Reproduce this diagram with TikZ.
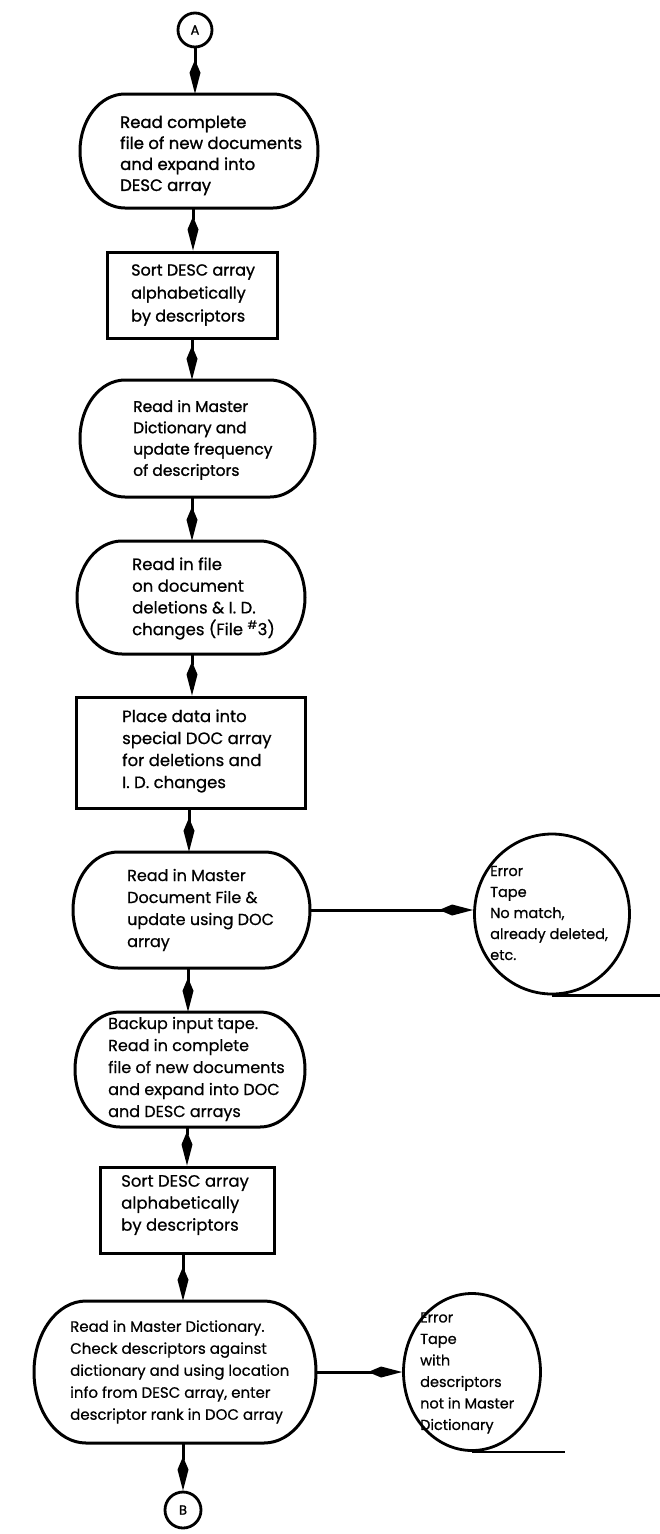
\documentclass[tikz,border=0pt]{standalone}
\usepackage{fontspec}
\setmainfont{Poppins}[FakeBold=0.6]
\newfontfamily\heavyfont{Poppins}[FakeBold=1.2]
\usetikzlibrary{arrows.meta,shapes.geometric}

\tikzset{
  outline/.style={line width=3pt, line join=round},
  frame/.style={inner sep=0pt, draw=none},
  boxnode/.style={draw, line width=3pt, inner sep=0pt},
  conn/.style={line width=3pt, -{Kite[length=34pt,width=11pt,inset=13pt]}},
  plain/.style={line width=2.8pt},
  txt/.style={anchor=west, align=left, inner sep=0pt},
  tape/.style={draw, ellipse, line width=2.8pt, inner sep=0pt},
  conector/.style={draw, circle, line width=2.8pt, minimum size=34pt, inner sep=0pt,
                   font=\heavyfont\fontsize{13}{13}\selectfont}
}

% terminal-style box: name, left, top, right, bottom, width of the rounded ends
\newcommand\stad[6]{%
  \node[frame, minimum width={(#4-#2)*1pt}, minimum height={(#5-#3)*1pt}]
    (#1) at ({(#2+#4)/2},{(#3+#5)/2}) {};
  \draw[outline] ({#2+#6},#3) -- ({#4-#6},#3)
    arc[start angle=90, end angle=-90, x radius=#6pt, y radius={(#5-#3)/2*1pt}]
    -- ({#2+#6},#5)
    arc[start angle=270, end angle=90, x radius=#6pt, y radius={(#5-#3)/2*1pt}]
    -- cycle;
}
% type size and line pitch of a text block
\newcommand\sz[2]{\fontsize{#1}{#2}\selectfont}

\begin{document}
\begin{tikzpicture}[x=1pt, y=-1pt]
  \fill[white] (0,0) rectangle (660,1534);
  \useasboundingbox (0,0) rectangle (660,1534);

  % off-page connector at the top
  \node[conector] (A) at (195,30) {A};

  % step 1
  \stad{s1}{80}{94}{318}{208}{45}
  \node[txt, font=\heavyfont\sz{16.5}{21}] (s1t) at (120,155.5) {Read complete\\file of new documents\\and expand into\\DESC array};

  % step 2
  \node[boxnode, minimum width=170pt, minimum height=86pt] (b2) at (192,295) {};
  \node[txt, font=\heavyfont\sz{16}{23}] (b2t) at (131,295) {Sort DESC array\\alphabetically\\by descriptors};

  % step 3
  \stad{s3}{80}{380}{315}{497}{45}
  \node[txt, font=\heavyfont\sz{15.5}{21.3}] (s3t) at (133,440) {Read in Master\\Dictionary and\\update frequency\\of descriptors};

  % step 4
  \stad{s4}{77}{541}{305}{654}{45}
  \node[txt, font=\sz{16.5}{21.7}] (s4t) at (132,598.5) {Read in file\\on document\\deletions \& I. D.\\changes (File \textsuperscript{\#}3)};

  % step 5
  \node[boxnode, minimum width=229pt, minimum height=111pt] (b5) at (190.5,752.5) {};
  \node[txt, font=\sz{16.5}{22}] (b5t) at (122,751) {Place data into\\special DOC array\\for deletions and\\I. D. changes};

  % step 6
  \stad{s6}{73}{852}{310}{968}{45}
  \node[txt, font=\sz{16}{22}] (s6t) at (127,910) {Read in Master\\Document File \&\\update using DOC\\array};

  % first error tape
  \node[tape, minimum width=155pt, minimum height=160pt] (t1) at (552,914) {};
  \node[txt, font=\sz{14.5}{21}] (t1t) at (490,913) {Error\\Tape\\No match,\\already deleted,\\etc.};
  \coordinate (t1end) at (660,994);

  % step 7
  \stad{s7}{75}{1012}{305}{1127}{45}
  \node[txt, font=\sz{16}{22}] (s7t) at (108,1069) {Backup input tape.\\Read in complete\\file of new documents\\and expand into DOC\\and DESC arrays};

  % step 8
  \node[boxnode, minimum width=174pt, minimum height=86pt] (b8) at (187,1210) {};
  \node[txt, font=\sz{16.5}{22}] (b8t) at (121,1205) {Sort DESC array\\alphabetically\\by descriptors};

  % step 9
  \stad{s9}{34}{1301}{316}{1443}{52}
  \node[txt, font=\sz{15}{22}] (s9t) at (70,1372) {Read in Master Dictionary.\\Check descriptors against\\dictionary and using location\\info from DESC array, enter\\descriptor rank in DOC array};

  % second error tape
  \node[tape, minimum width=137pt, minimum height=157pt] (t2) at (472,1372) {};
  \node[txt, font=\sz{14.5}{21.5}] (t2t) at (420,1373) {Error\\Tape\\with\\descriptors\\not in Master\\Dictionary};
  \coordinate (t2end) at (565,1450);

  % off-page connector at the bottom
  \node[conector, minimum size=36pt] (B) at (183,1510) {B};

  % flow lines
  \draw[conn] (A.south) -- (A.south |- s1.north);
  \draw[conn] (s1.south -| 193,0) -- (b2.north -| 193,0);
  \draw[conn] (b2.south -| 192,0) -- (s3.north -| 192,0);
  \draw[conn] (s3.south -| 192,0) -- (s4.north -| 192,0);
  \draw[conn] (s4.south -| 192,0) -- (b5.north -| 192,0);
  \draw[conn] (b5.south -| 189,0) -- (s6.north -| 189,0);
  \draw[conn] (s6.south -| 188,0) -- (s7.north -| 188,0);
  \draw[conn] (s7.south -| 187,0) -- (b8.north -| 187,0);
  \draw[conn] (b8.south -| 183,0) -- (s9.north -| 183,0);
  \draw[conn] (s9.south -| B.north) -- (B.north);

  \draw[conn] (s6.east) -- (s6.east -| t1.west);
  \draw[conn] (s9.east) -- (s9.east -| t2.west);

  % tape run-out lines
  \draw[plain] (t1.south) -- (t1.south -| t1end);
  \draw[plain] (t2.south) -- (t2.south -| t2end);
\end{tikzpicture}
\end{document}
